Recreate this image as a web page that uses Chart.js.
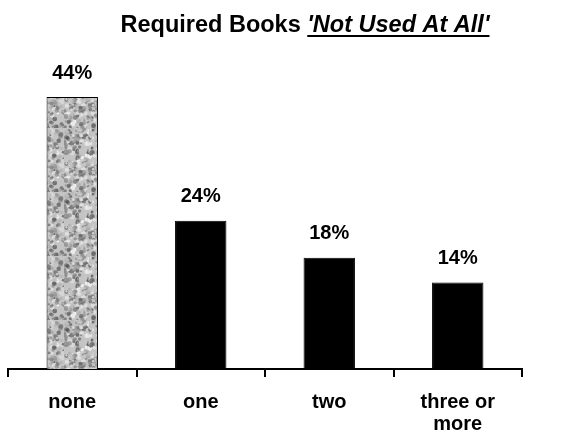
<!DOCTYPE html>
<html>
<head>
<meta charset="utf-8">
<script src="https://cdn.jsdelivr.net/npm/chart.js"></script>
<style>
  html, body { margin: 0; padding: 0; background: #fff; }
  #wrap { width: 579px; height: 439px; }
</style>
</head>
<body>
<div id="wrap"><canvas id="reporteLibros"></canvas></div>
<script>
var categorias = [["none"], ["one"], ["two"], ["three or", "more"]];
var porcentajes = [44, 24, 18, 14];
var etiquetas = ["44%", "24%", "18%", "14%"];

// textura gris para la primera barra (ruido fijo, solo decorativo)
function texturaGris() {
  var c = document.createElement("canvas");
  c.width = 64; c.height = 64;
  var g = c.getContext("2d");
  g.fillStyle = "#c4c4c4";
  g.fillRect(0, 0, 64, 64);
  var s = 98765;
  function rnd() { s = (s * 1103515245 + 12345) % 2147483648; return s / 2147483648; }
  for (var i = 0; i < 520; i++) {
    var v = Math.floor(70 + rnd() * 185);
    g.fillStyle = "rgba(" + v + "," + v + "," + v + ",0.7)";
    g.beginPath();
    g.arc(rnd() * 64, rnd() * 64, 0.8 + rnd() * 1.8, 0, Math.PI * 2);
    g.fill();
  }
  return g.createPattern(c, "repeat");
}

var colores = [texturaGris(), "#000", "#000", "#000"];
var fuente = "'Liberation Sans', Arial, sans-serif";

var tituloPlugin = {
  id: "tituloPlugin",
  afterDraw: function (chart) {
    var ctx = chart.ctx;
    var parte1 = "Required Books ";
    var parte2 = "'Not Used At All'";
    ctx.save();
    ctx.fillStyle = "#000";
    ctx.textBaseline = "alphabetic";
    ctx.font = "bold 23.5px " + fuente;
    var w1 = ctx.measureText(parte1).width;
    ctx.font = "italic bold 23.5px " + fuente;
    var w2 = ctx.measureText(parte2).width;
    var x = 305 - (w1 + w2) / 2;
    var y = 32;
    ctx.font = "bold 23.5px " + fuente;
    ctx.fillText(parte1, x, y);
    ctx.font = "italic bold 23.5px " + fuente;
    ctx.fillText(parte2, x + w1, y);
    ctx.fillRect(x + w1, y + 3, w2, 2);
    ctx.restore();
  }
};

var valoresPlugin = {
  id: "valoresPlugin",
  afterDatasetsDraw: function (chart) {
    var ctx = chart.ctx;
    var meta = chart.getDatasetMeta(0);
    ctx.save();
    ctx.fillStyle = "#000";
    ctx.font = "bold 20px " + fuente;
    ctx.textAlign = "center";
    ctx.textBaseline = "middle";
    meta.data.forEach(function (bar, i) {
      ctx.fillText(etiquetas[i], bar.x, bar.y - 24);
    });
    ctx.restore();
  }
};

new Chart("reporteLibros", {
  type: "bar",
  data: {
    labels: categorias,
    datasets: [{
      data: porcentajes,
      backgroundColor: colores,
      borderColor: "#000",
      borderWidth: 1,
      barPercentage: 0.4,
      categoryPercentage: 1
    }]
  },
  plugins: [tituloPlugin, valoresPlugin],
  options: {
    responsive: true,
    maintainAspectRatio: false,
    animation: false,
    layout: { padding: { top: 60, left: 8, right: 57, bottom: 0 } },
    plugins: {
      legend: { display: false },
      tooltip: { enabled: false }
    },
    scales: {
      y: { display: false, min: 0, max: 50 },
      x: {
        afterFit: function (scale) { scale.height = 70; },
        border: { display: true, color: "#000", width: 2 },
        grid: { drawOnChartArea: false, drawTicks: true, tickLength: 8, color: "#000", lineWidth: 2 },
        ticks: {
          color: "#000",
          padding: 14,
          font: { family: fuente, size: 20, weight: "bold", lineHeight: 1.1 }
        }
      }
    }
  }
});
</script>
</body>
</html>
